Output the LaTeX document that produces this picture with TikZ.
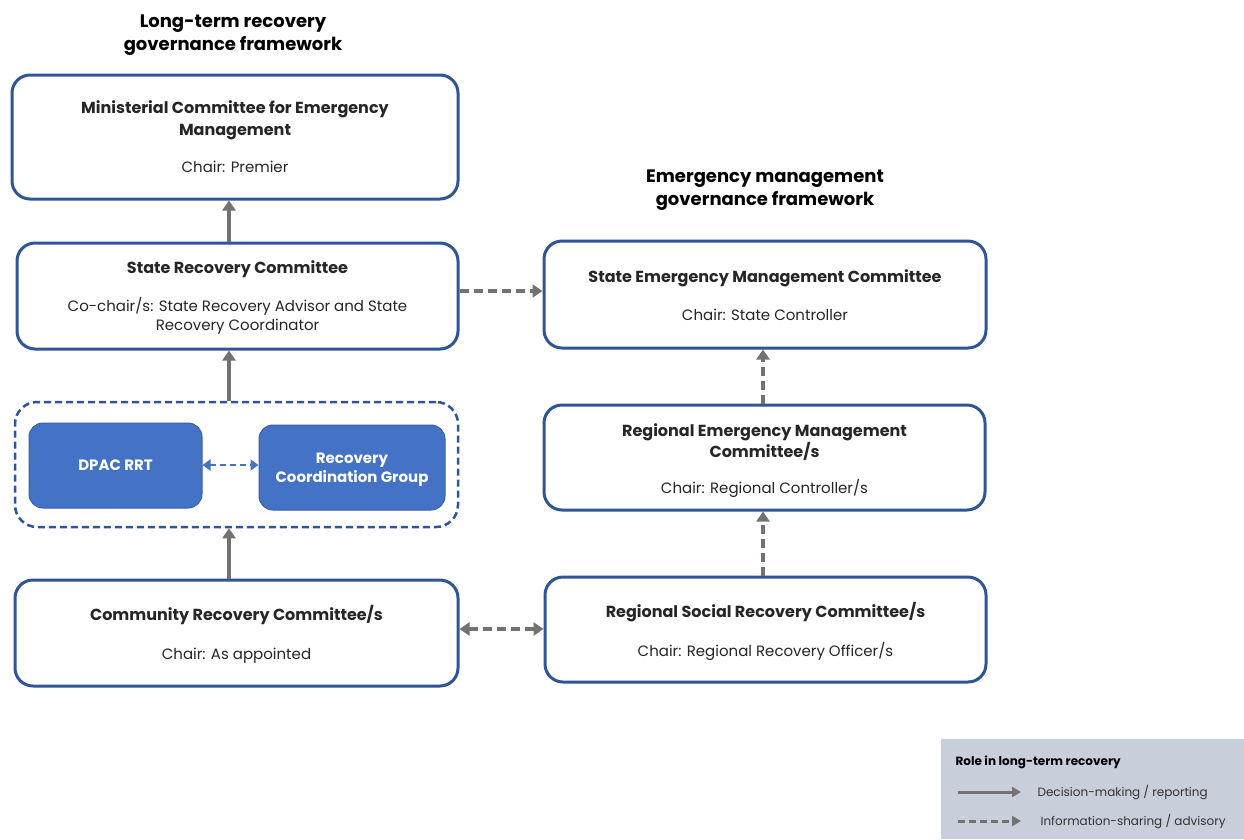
\documentclass[tikz,border=0pt]{standalone}
\usepackage{fontspec}
\setmainfont{Poppins}
\usetikzlibrary{arrows.meta}
\definecolor{bord}{HTML}{2F5597}
\definecolor{fillb}{HTML}{4472C4}
\definecolor{arr}{HTML}{767171}
\definecolor{leg}{HTML}{C9CEDB}
\newcommand{\ttl}[1]{{\bfseries\fontsize{16}{22}\selectfont #1}}
\tikzset{
  box/.style={draw=bord, line width=3pt, rounded corners=18pt, fill=white, inner sep=0pt},
  txt/.style={align=center, inner sep=0pt, font=\fontsize{15}{20}\selectfont, text=black!85},
  bluebox/.style={draw=bord!60!fillb, line width=1pt, fill=fillb, rounded corners=14pt, inner sep=0pt},
  bluetxt/.style={text=white, align=center, inner sep=0pt, font=\bfseries\fontsize{15}{19}\selectfont},
  grpbox/.style={draw=bord, line width=2.5pt, dash pattern=on 7pt off 4pt, rounded corners=22pt},
  heading/.style={align=center, font=\bfseries\fontsize{18}{23}\selectfont},
  solidarr/.style={draw=arr, line width=4pt, -{Triangle[length=10pt,width=13pt]}},
  dasharr/.style={solidarr, dash pattern=on 9pt off 5pt},
  dasharrb/.style={dasharr, {Triangle[length=10pt,width=13pt]}-{Triangle[length=10pt,width=13pt]}},
  bluearr/.style={draw=fillb, line width=2.5pt, dash pattern=on 6pt off 4pt,
    {Triangle[length=8pt,width=11pt]}-{Triangle[length=8pt,width=11pt]}},
  legtext/.style={anchor=west, font=\fontsize{12}{14}\selectfont, text=black!80},
}
\begin{document}
\begin{tikzpicture}[x=1pt,y=-1pt]
\useasboundingbox (0,0) rectangle (1244,839);
\fill[white] (0,0) rectangle (1244,839);

% headings
\node[heading] (h1) at (233,35) {Long-term recovery\\governance framework};
\node[heading] (h2) at (765,190) {Emergency management\\governance framework};

% left column
\node[box, minimum width=446pt, minimum height=124pt] (mcem) at (235,137) {};
\node[txt] (mcemt) at ([yshift=0pt]mcem.center)
  {\ttl{Ministerial Committee for Emergency}\\[2pt]\ttl{Management}\\[17pt]Chair: Premier};
\node[box, minimum width=441pt, minimum height=106pt] (src) at (237.5,296) {};
\node[txt] (srct) at ([yshift=-1.5pt]src.center)
  {\ttl{State Recovery Committee}\\[18pt]Co-chair/s: State Recovery Advisor and State\\[-1pt]Recovery Coordinator};
\node[grpbox, minimum width=443pt, minimum height=125pt] (grp) at (236.5,464.5) {};
\node[bluebox, minimum width=173pt, minimum height=85pt] (dpac) at (115.5,465.5) {};
\node[bluetxt] (dpact) at (dpac.center) {DPAC RRT};
\node[bluebox, minimum width=186pt, minimum height=85pt] (rcg) at (352,467.5) {};
\node[bluetxt] (rcgt) at ([yshift=-2pt]rcg.center) {Recovery\\Coordination Group};
\node[box, minimum width=443pt, minimum height=106pt] (crc) at (236.5,633) {};
\node[txt] (crct) at ([yshift=-1pt]crc.center)
  {\ttl{Community Recovery Committee/s}\\[19pt]Chair: As appointed};

% right column
\node[box, minimum width=442pt, minimum height=107pt] (semc) at (765,294.5) {};
\node[txt] (semct) at ([yshift=-0.5pt]semc.center)
  {\ttl{State Emergency Management Committee}\\[18pt]Chair: State Controller};
\node[box, minimum width=441pt, minimum height=105pt] (remc) at (764.5,457.5) {};
\node[txt] (remct) at ([yshift=-3.5pt]remc.center)
  {\ttl{Regional Emergency Management}\\[1pt]\ttl{Committee/s}\\[16pt]Chair: Regional Controller/s};
\node[box, minimum width=441pt, minimum height=105pt] (rsrc) at (765.5,629.5) {};
\node[txt] (rsrct) at ([yshift=-1.5pt]rsrc.center)
  {\ttl{Regional Social Recovery Committee/s}\\[19pt]Chair: Regional Recovery Officer/s};

% connectors
\draw[solidarr] (src.north -| 229,0) -- (mcem.south -| 229,0);
\draw[solidarr] (grp.north -| 229,0) -- (src.south -| 229,0);
\draw[solidarr] (crc.north -| 229,0) -- (grp.south -| 229,0);
\draw[bluearr] (dpac.east |- 0,465) -- (rcg.west |- 0,465);
\draw[dasharr] (src.east |- 0,291) -- (semc.west |- 0,291);
\draw[dasharr] (remc.north -| 763,0) -- (semc.south -| 763,0);
\draw[dasharr] (rsrc.north -| 763,0) -- (remc.south -| 763,0);
\draw[dasharrb] (crc.east |- 0,629) -- (rsrc.west |- 0,629);

% legend
\node[fill=leg, minimum width=303pt, minimum height=100pt, inner sep=0pt, anchor=north west] (leg) at (941,739) {};
\node[anchor=west, font=\bfseries\fontsize{12}{14}\selectfont] (legt) at (952,762) {Role in long-term recovery};
\coordinate (l1a) at (958,792);
\coordinate (l1b) at (1021,792);
\coordinate (l2a) at (958,821);
\coordinate (l2b) at (1021,821);
\draw[solidarr, line width=3pt, -{Triangle[length=9pt,width=10pt]}] (l1a) -- (l1b);
\draw[solidarr, line width=3pt, dash pattern=on 7pt off 4pt, -{Triangle[length=9pt,width=10pt]}] (l2a) -- (l2b);
\node[legtext] (lt1) at (1034,792) {Decision-making / reporting};
\node[legtext] (lt2) at (1037,821) {Information-sharing / advisory};
\end{tikzpicture}
\end{document}
